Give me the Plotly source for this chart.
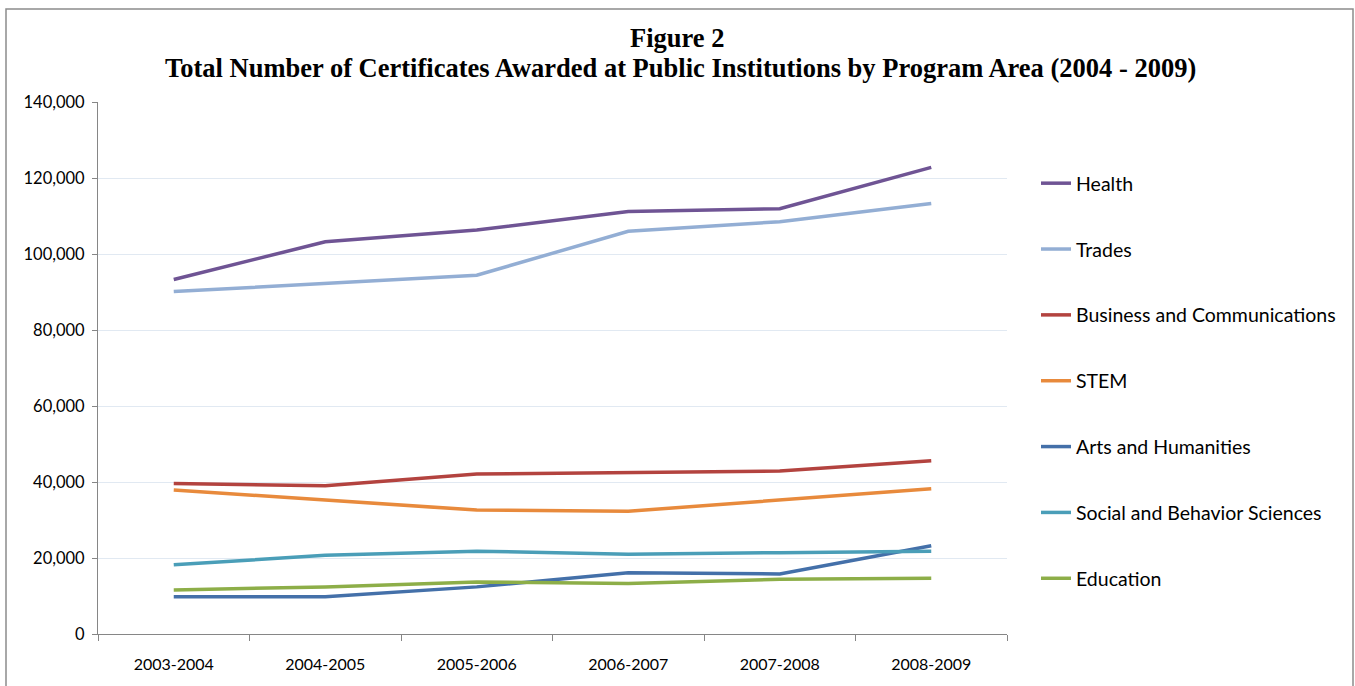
import plotly.graph_objects as go

years = ["2003-2004", "2004-2005", "2005-2006", "2006-2007", "2007-2008", "2008-2009"]

health = [93300, 103200, 106300, 111200, 111900, 122800]
trades = [90100, 92300, 94400, 106000, 108500, 113300]
business = [39600, 39000, 42100, 42400, 42900, 45600]
stem = [37900, 35200, 32600, 32300, 35200, 38200]
arts = [9800, 9800, 12400, 16100, 15800, 23200]
social = [18200, 20700, 21800, 21000, 21400, 21800]
education = [11600, 12400, 13700, 13300, 14400, 14700]

series_names = ["Health", "Trades", "Business and Communications", "STEM",
                "Arts and Humanities", "Social and Behavior Sciences", "Education"]
series_values = [health, trades, business, stem, arts, social, education]
colors = ["#6F5494", "#93AED4", "#B3433F", "#E88A3C", "#4470A9", "#4A9EB8", "#8DAE48"]

y_ticks = [0, 20000, 40000, 60000, 80000, 100000, 120000, 140000]
y_tick_labels = ["0", "20,000", "40,000", "60,000", "80,000", "100,000", "120,000", "140,000"]

fig = go.Figure()
for i, (name, vals, col) in enumerate(zip(series_names, series_values, colors)):
    fig.add_trace(go.Scatter(
        x=years, y=vals, name=name, mode="lines",
        line=dict(color=col, width=3.5),
        legendgroup=f"g{i}",
    ))

W, H = 1355, 686
L, R, T, B = 98, W - 1007, 102, H - 634
pw = W - L - R
ph = H - T - B

def px_x(x):
    return (x - L) / pw

def px_y(y):
    return (H - B - y) / ph

fig.update_layout(
    width=W, height=H,
    margin=dict(l=L, r=R, t=T, b=B),
    paper_bgcolor="white", plot_bgcolor="white",
    font=dict(family="Lato", size=16, color="#000000"),
    showlegend=True,
    legend=dict(
        x=px_x(1036), y=px_y(164), xanchor="left", yanchor="top",
        font=dict(family="Lato", size=19.5, color="#000000"),
        tracegroupgap=37.5, itemwidth=30,
        bgcolor="rgba(0,0,0,0)",
    ),
    xaxis=dict(
        type="category", range=[-0.5, 5.5],
        showline=True, linecolor="#868686", linewidth=1,
        ticks="outside", tickson="boundaries", ticklen=6, tickcolor="#868686",
        showgrid=False, zeroline=False,
        tickfont=dict(family="Lato", size=16, color="#000000"),
        ticklabelstandoff=16,
    ),
    yaxis=dict(
        range=[0, 140000], tickvals=y_ticks, ticktext=y_tick_labels,
        showline=True, linecolor="#868686", linewidth=1,
        ticks="outside", ticklen=5, tickcolor="#868686",
        showgrid=True, gridcolor="#E1E9F2", gridwidth=1, zeroline=False,
        tickfont=dict(family="Lato", size=16.5, color="#000000"),
        ticklabelstandoff=4,
    ),
    annotations=[
        dict(text="<b>Figure 2</b>", xref="paper", yref="paper",
             x=px_x(677), y=px_y(38), xanchor="center", yanchor="middle",
             showarrow=False, font=dict(family="Liberation Serif", size=26.5, color="#000")),
        dict(text="<b>Total Number of Certificates Awarded at Public Institutions by Program Area (2004 - 2009)</b>",
             xref="paper", yref="paper",
             x=px_x(680), y=px_y(68), xanchor="center", yanchor="middle",
             showarrow=False, font=dict(family="Liberation Serif", size=26.5, color="#000")),
    ],
    shapes=[
        dict(type="rect", xref="paper", yref="paper",
             x0=px_x(6), x1=px_x(1353), y0=px_y(700), y1=px_y(9),
             line=dict(color="#8C8C8C", width=1.5), fillcolor="rgba(0,0,0,0)", layer="below"),
    ],
)

fig.write_html("out.html", config={"displayModeBar": False},
               post_script="document.body.style.margin='0';document.body.style.overflow='hidden';")
